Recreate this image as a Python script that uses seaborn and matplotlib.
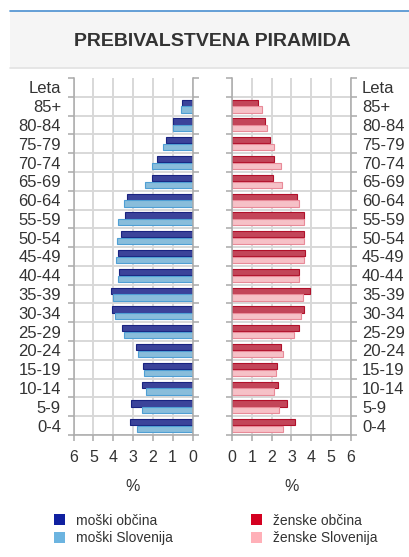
import matplotlib
matplotlib.use("Agg")
import matplotlib.pyplot as plt
import matplotlib.patches as mpatches
from matplotlib.ticker import FixedLocator
import pandas as pd
import seaborn as sns

ages = ['85+', '80-84', '75-79', '70-74', '65-69', '60-64', '55-59', '50-54', '45-49',
        '40-44', '35-39', '30-34', '25-29', '20-24', '15-19', '10-14', '5-9', '0-4']
moski_obcina = [0.52, 0.98, 1.34, 1.79, 2.03, 3.30, 3.42, 3.58, 3.74,
                3.69, 4.09, 4.06, 3.53, 2.87, 2.50, 2.54, 3.10, 3.15]
moski_slovenija = [0.57, 0.98, 1.50, 2.03, 2.37, 3.47, 3.76, 3.81, 3.86,
                   3.76, 4.02, 3.89, 3.45, 2.77, 2.44, 2.34, 2.57, 2.79]
zenske_obcina = [1.33, 1.67, 1.94, 2.13, 2.08, 3.26, 3.63, 3.65, 3.70,
                 3.40, 3.95, 3.63, 3.36, 2.48, 2.25, 2.33, 2.77, 3.16]
zenske_slovenija = [1.52, 1.76, 2.11, 2.45, 2.53, 3.40, 3.63, 3.63, 3.65,
                    3.40, 3.60, 3.46, 3.13, 2.57, 2.23, 2.11, 2.36, 2.57]
order = ['Leta'] + ages
x_ticks = [0, 1, 2, 3, 4, 5, 6]

men = pd.DataFrame({
    'leta': ages * 2,
    'delez': moski_obcina + moski_slovenija,
    'serija': ['moški občina'] * len(ages) + ['moški Slovenija'] * len(ages),
})
women = pd.DataFrame({
    'leta': ages * 2,
    'delez': zenske_obcina + zenske_slovenija,
    'serija': ['ženske občina'] * len(ages) + ['ženske Slovenija'] * len(ages),
})

fill = {'moški občina': '#2b36aa', 'moški Slovenija': '#7cc0e8',
        'ženske občina': '#d8304a', 'ženske Slovenija': '#ffb8c0'}
edge = {'moški občina': '#1a2380', 'moški Slovenija': '#4f9fd4',
        'ženske občina': '#b0102a', 'ženske Slovenija': '#e88a98'}
legend_fill = {'moški občina': '#1020a0', 'moški Slovenija': '#6cb4e0',
               'ženske občina': '#d40020', 'ženske Slovenija': '#ffb0b8'}

sns.set_style("white")
plt.rcParams['font.family'] = ['Liberation Sans', 'DejaVu Sans']

fig = plt.figure(figsize=(4.09, 5.57), dpi=100)
W, H = 409, 557

# title box
fig.patches.append(mpatches.Rectangle((10 / W, 1 - 68 / H), 1, 57 / H, transform=fig.transFigure,
                                      facecolor='#f5f5f5', edgecolor='none', zorder=0))
fig.add_artist(plt.Line2D([10 / W, 1], [1 - 11 / H] * 2, color='#4a8fd0', lw=1.2))
fig.add_artist(plt.Line2D([10 / W, 1], [1 - 68 / H] * 2, color='#e2e2e2', lw=1.2))
fig.text(212 / W, 1 - 41 / H, 'PREBIVALSTVENA PIRAMIDA', ha='center', va='center',
         fontsize=14, fontweight='bold', color='#333333')

ax_l = fig.add_axes([73.5 / W, 1 - 435 / H, 119 / W, 357 / H])
ax_r = fig.add_axes([232 / W, 1 - 435 / H, 119 / W, 357 / H])

grid_color = '#d8d8d8'
for ax, df, series, side in [(ax_l, men, ['moški občina', 'moški Slovenija'], 'left'),
                             (ax_r, women, ['ženske občina', 'ženske Slovenija'], 'right')]:
    sns.barplot(data=df, y='leta', x='delez', hue='serija', order=order, hue_order=series,
                palette=fill, orient='h', width=0.72, gap=0.08, legend=False, ax=ax, zorder=3)
    for cont, name in zip(ax.containers, series):
        for bar in cont:
            bar.set_edgecolor(edge[name])
            bar.set_linewidth(0.8)
    ax.set_ylim(len(order) - 0.5, -0.5)
    ax.set_xticks(x_ticks)
    ax.yaxis.set_minor_locator(FixedLocator([i - 0.5 for i in range(len(order) + 1)]))
    # grid lines drawn from the tick positions
    for xv in x_ticks:
        ax.axvline(xv, color=grid_color, lw=1.4, zorder=1)
    for yv in range(len(order)):
        ax.axhline(yv + 0.5, color=grid_color, lw=1.4, zorder=1)
    ax.set_ylabel('')
    ax.set_xlabel('%', fontsize=11.5, color='#333333', labelpad=10)
    for s in ['left', 'right', 'bottom']:
        ax.spines[s].set_visible(True)
        ax.spines[s].set_color('#aaaaaa')
        ax.spines[s].set_linewidth(1.1)
        ax.spines[s].set_zorder(4)
    ax.spines['top'].set_visible(False)
    ax.tick_params(axis='x', which='major', bottom=True, length=4, width=1.1, color='#aaaaaa',
                   labelsize=11.5, labelcolor='#333333', pad=7)
    ax.tick_params(axis='y', which='minor', left=True, right=True, length=4, width=1.1,
                   color='#aaaaaa')
    if side == 'left':
        ax.tick_params(axis='y', which='major', length=0, labelleft=True, labelright=False,
                       labelsize=12, labelcolor='#333333', pad=9)
    else:
        ax.tick_params(axis='y', which='major', length=0, labelleft=False, labelright=True,
                       labelsize=12, labelcolor='#333333', pad=8)

ax_l.set_xlim(6, 0)
ax_r.set_xlim(0, 6)

# legends
for names, x in [(['moški občina', 'moški Slovenija'], 48 / W),
                 (['ženske občina', 'ženske Slovenija'], 245 / W)]:
    handles = [mpatches.Patch(facecolor=legend_fill[n], edgecolor='none', label=n) for n in names]
    fig.legend(handles=handles, loc='upper left', bbox_to_anchor=(x, 1 - 508 / H),
               frameon=False, fontsize=10, handlelength=0.8, handleheight=0.8,
               handletextpad=0.8, labelspacing=0.25, labelcolor='#333333', borderaxespad=0)

fig.savefig('out.png', dpi=100)
